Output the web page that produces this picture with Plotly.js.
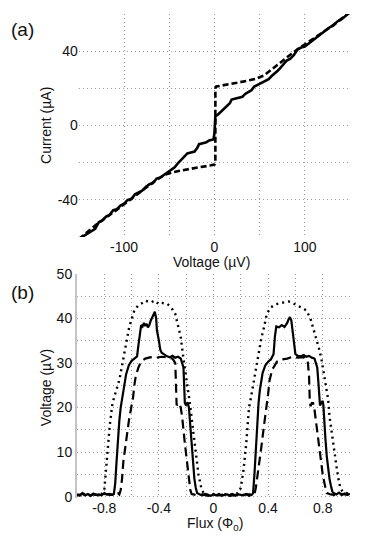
<!DOCTYPE html>
<html>
<head>
<meta charset="utf-8">
<script src="https://cdn.plot.ly/plotly-3.0.1.min.js"></script>
<style>
  html, body { margin: 0; padding: 0; background: #fff; }
  #chart { width: 374px; height: 539px; }
</style>
</head>
<body>
<div id="chart"></div>
<script>
// (a) current-voltage curves, staircase (solid) and hysteretic (dashed)
var ivSolidV = [-150,-145,-140,-136,-132,-128,-124,-120,-116,-112,-108,-104,-100,-96,-92,-88,-84,-80,-76,-72,-68,-64,-60,-56,-52,-48,-44,-40,-37,-33,-30,-26,-22,-19,-17,-13,-9,-6,-3,-1,0,0.5,0.5,1,4,8,11,14,17,19,23,27,31,34,37,41,44,48,52,56,60,63,67,70,73,76,80,84,88,92,96,100,104,108,112,116,120,124,128,132,136,140,144,148,150];
var ivSolidI = [-61,-59.5,-58,-56.5,-55.5,-52,-51,-49,-48,-45.5,-45,-43,-42,-40,-39.5,-37,-36,-35,-33,-31.5,-31,-28.5,-28,-26.5,-25.5,-23.5,-22.5,-20,-18.5,-16.5,-15,-14.5,-14,-12,-10,-9.5,-9,-8,-7.5,-7.5,-4,0,3,5,6,8,9,11,12,14,14.5,15,15.5,17,18,19,21,22,23,24,25,26.5,28,29.5,31,33,35,36,38,41,42,42.5,44,46,47.5,49,50,51.5,53,54,56,57,58.5,60,61];
var ivDashV = [-150,-130,-110,-95,-85,-75,-65,-55,-45,-35,-25,-15,-5,0,1,1,2,15,25,35,45,55,65,75,85,95,110,130,150];
var ivDashI = [-61,-53,-46,-40.5,-37,-33.5,-29.5,-26.5,-25,-24,-23,-22.3,-21.5,-21,-20,20,21,22,23,24,25,27,31,35,38.5,42,47,53.5,61];

// (b) voltage vs flux for three bias currents
var fluxSolid = [-1,-0.98,-0.96,-0.94,-0.92,-0.9,-0.88,-0.86,-0.84,-0.82,-0.8,-0.78,-0.76,-0.74,-0.73,-0.72,-0.71,-0.7,-0.69,-0.68,-0.67,-0.66,-0.65,-0.64,-0.62,-0.6,-0.58,-0.56,-0.55,-0.54,-0.53,-0.52,-0.51,-0.5,-0.49,-0.48,-0.47,-0.46,-0.45,-0.44,-0.43,-0.42,-0.415,-0.4,-0.39,-0.38,-0.36,-0.34,-0.32,-0.3,-0.28,-0.26,-0.24,-0.23,-0.22,-0.215,-0.21,-0.2,-0.19,-0.18,-0.17,-0.16,-0.15,-0.14,-0.13,-0.12,-0.1,-0.08,-0.06,-0.04,-0.02,0,0.02,0.04,0.06,0.08,0.1,0.12,0.14,0.16,0.18,0.2,0.22,0.24,0.26,0.28,0.29,0.3,0.31,0.32,0.33,0.34,0.35,0.36,0.38,0.4,0.42,0.44,0.45,0.46,0.48,0.5,0.52,0.54,0.55,0.56,0.57,0.58,0.59,0.6,0.62,0.64,0.66,0.68,0.7,0.72,0.74,0.75,0.76,0.77,0.78,0.79,0.8,0.805,0.81,0.82,0.83,0.84,0.85,0.86,0.87,0.88,0.9,0.92,0.94,0.96,0.98,1];
var voltSolid = [0.5,0.2,0.8,0.3,0.6,0.2,0.7,0.4,0.5,0.3,0.8,0.5,0.6,0.4,0.6,3,8,13,17,20,22,24,26,27.5,29.5,30.5,31,31.5,34,37,38.5,38.2,39,38.3,38.8,38,38.5,39.5,40.3,40.8,41.5,40,37.5,35,33,32.3,31.8,31.5,31.3,31.6,31.2,31.4,31,30,29,25,21,20.5,21.2,20,16,11,7,4,2,0.8,0.5,0.3,0.6,0.4,0.2,0.5,0.3,0.6,0.2,0.4,0.5,0.3,0.6,0.2,0.5,0.4,0.3,0.6,0.2,0.4,0.8,5,11,17,21,24,26,27.8,29.5,30.3,30.8,32,36,38.2,38,38.5,38.1,39,39.8,40.3,39.6,37,34,32,31.6,31.5,31.8,31.4,31.6,31.2,31,30,29,25,20.5,21,21.5,20.5,17,13,9,6,4,2.5,1.2,0.8,0.5,0.9,0.4,0.7,0.5,0.6];
var fluxDash = [-1,-0.96,-0.92,-0.88,-0.84,-0.8,-0.76,-0.72,-0.7,-0.69,-0.68,-0.67,-0.66,-0.64,-0.62,-0.6,-0.59,-0.58,-0.57,-0.55,-0.53,-0.5,-0.46,-0.42,-0.38,-0.34,-0.3,-0.28,-0.275,-0.27,-0.26,-0.25,-0.24,-0.23,-0.21,-0.19,-0.17,-0.16,-0.12,-0.08,-0.04,0,0.04,0.08,0.12,0.16,0.2,0.24,0.28,0.3,0.31,0.33,0.35,0.37,0.39,0.4,0.41,0.43,0.465,0.5,0.54,0.58,0.62,0.66,0.69,0.7,0.705,0.71,0.72,0.73,0.74,0.76,0.78,0.8,0.82,0.83,0.86,0.9,0.94,0.98,1];
var voltDash = [0.3,0.6,0.2,0.5,0.3,0.6,0.4,0.5,0.8,0.5,1.5,4,8,13,17,20.5,22,25,27,29,30.3,31,31.3,31.2,31.4,31.3,31,30,25,20.5,20.8,21,20,18,12,6,1.5,0.6,0.3,0.5,0.2,0.4,0.3,0.5,0.2,0.4,0.3,0.5,0.4,0.5,2,6,11,16,20,23,26,28.5,30.3,30.8,31,31.4,31.2,31.3,30.5,27,22,20.3,21,21,19.5,15,10,5,2,0.8,0.5,0.3,0.6,0.4,0.5];
var fluxDot = [-1,-0.95,-0.9,-0.85,-0.82,-0.8,-0.79,-0.78,-0.76,-0.74,-0.72,-0.69,-0.667,-0.64,-0.618,-0.58,-0.55,-0.53,-0.5,-0.46,-0.43,-0.4,-0.38,-0.34,-0.31,-0.28,-0.26,-0.24,-0.22,-0.2,-0.18,-0.17,-0.15,-0.13,-0.11,-0.09,-0.07,-0.04,0,0.05,0.1,0.15,0.18,0.2,0.22,0.24,0.26,0.27,0.29,0.31,0.33,0.35,0.37,0.39,0.42,0.46,0.5,0.55,0.58,0.61,0.65,0.68,0.71,0.73,0.75,0.77,0.79,0.805,0.82,0.84,0.85,0.866,0.88,0.9,0.915,0.93,0.95,0.97,1];
var voltDot = [0.4,0.6,0.3,0.5,0.6,1.5,5,10,16,21,23,26.2,29.9,34,38,41.8,43,43.3,44,43.6,44,43.2,43.5,43.3,42.5,41,38.5,35.8,31,27,23,20.3,15,10,5,2,0.6,0.4,0.6,0.4,0.6,0.5,0.8,2,6,12,20,21.5,25,28.5,32,35.5,38,41,42.5,43.2,43.5,43.8,43.5,42.9,42.4,41.8,40,38,36,33.6,31,28.4,25,21.8,18,14.4,10.5,7,4,1.8,1,0.8,0.6];

// tick positions and labels
var ivVTicks = [-150,-100,-50,0,50,100,150];
var ivVLabels = ['','-100','','0','','100',''];
var ivITicks = [-60,-40,-20,0,20,40,60];
var ivILabels = ['','-40','','0','','40',''];
var fluxTicks = [-1,-0.8,-0.6,-0.4,-0.2,0,0.2,0.4,0.6,0.8,1];
var fluxLabels = ['','-0.8','','-0.4','','0','','0.4','','0.8',''];
var voltTicks = [0,5,10,15,20,25,30,35,40,45,50];
var voltLabels = ['0','','10','','20','','30','','40','','50'];

var font = 'Liberation Sans, Arial, sans-serif';
var gridStyle = {
  showgrid: true, gridcolor: '#9a9a9a', griddash: '1px,3px', gridwidth: 1,
  zeroline: false, ticks: '', tickmode: 'array',
  tickfont: {family: font, size: 14, color: '#111'}
};

// text placed in paper coords, always centred
function label(text, x, y, extra) {
  return Object.assign({text: text, x: x, y: y, xref: 'paper', yref: 'paper',
    xanchor: 'center', yanchor: 'middle', showarrow: false}, extra || {});
}

var data = [
  {x: ivSolidV, y: ivSolidI, xaxis: 'x', yaxis: 'y', mode: 'lines',
   line: {color: '#000', width: 2.6}},
  {x: ivDashV, y: ivDashI, xaxis: 'x', yaxis: 'y', mode: 'lines',
   line: {color: '#000', width: 2.6, dash: '6px,3px'}},
  {x: fluxDot, y: voltDot, xaxis: 'x2', yaxis: 'y2', mode: 'lines',
   line: {color: '#000', width: 2.4, dash: '2px,4px'}},
  {x: fluxDash, y: voltDash, xaxis: 'x2', yaxis: 'y2', mode: 'lines',
   line: {color: '#000', width: 2.2, dash: '9px,5px'}},
  {x: fluxSolid, y: voltSolid, xaxis: 'x2', yaxis: 'y2', mode: 'lines',
   line: {color: '#000', width: 2.2}}
];

var layout = {
  width: 374, height: 539,
  margin: {l: 77, r: 24, t: 14, b: 41},
  paper_bgcolor: '#fff', plot_bgcolor: '#fff',
  showlegend: false,
  font: {family: font, size: 14, color: '#111'},
  xaxis: Object.assign({}, gridStyle, {domain: [0.007, 1], anchor: 'y', range: [-150, 150],
    tickvals: ivVTicks, ticktext: ivVLabels}),
  yaxis: Object.assign({}, gridStyle, {domain: [0.539, 1], anchor: 'x', range: [-60, 60],
    tickvals: ivITicks, ticktext: ivILabels}),
  xaxis2: Object.assign({}, gridStyle, {domain: [0, 1], anchor: 'y2', range: [-1, 1],
    tickvals: fluxTicks, ticktext: fluxLabels}),
  yaxis2: Object.assign({}, gridStyle, {domain: [0, 0.463], anchor: 'x2', range: [-0.3, 50],
    tickvals: voltTicks, ticktext: voltLabels, showline: true, linecolor: '#c4c4c4', linewidth: 2}),
  annotations: [
    label('(a)', -0.198, 0.969, {font: {size: 19, color: '#111'}}),
    label('(b)', -0.198, 0.4256, {font: {size: 19, color: '#111'}}),
    label('Current (µA)', -0.1136, 0.7707, {textangle: -90}),
    label('Voltage (µV)', 0.4945, 0.4866),
    label('Voltage (µV)', -0.1136, 0.229, {textangle: -90}),
    label('Flux (Φ<sub>0</sub>)', 0.505, -0.054)
  ]
};

Plotly.newPlot('chart', data, layout, {displayModeBar: false, staticPlot: true});
</script>
</body>
</html>
